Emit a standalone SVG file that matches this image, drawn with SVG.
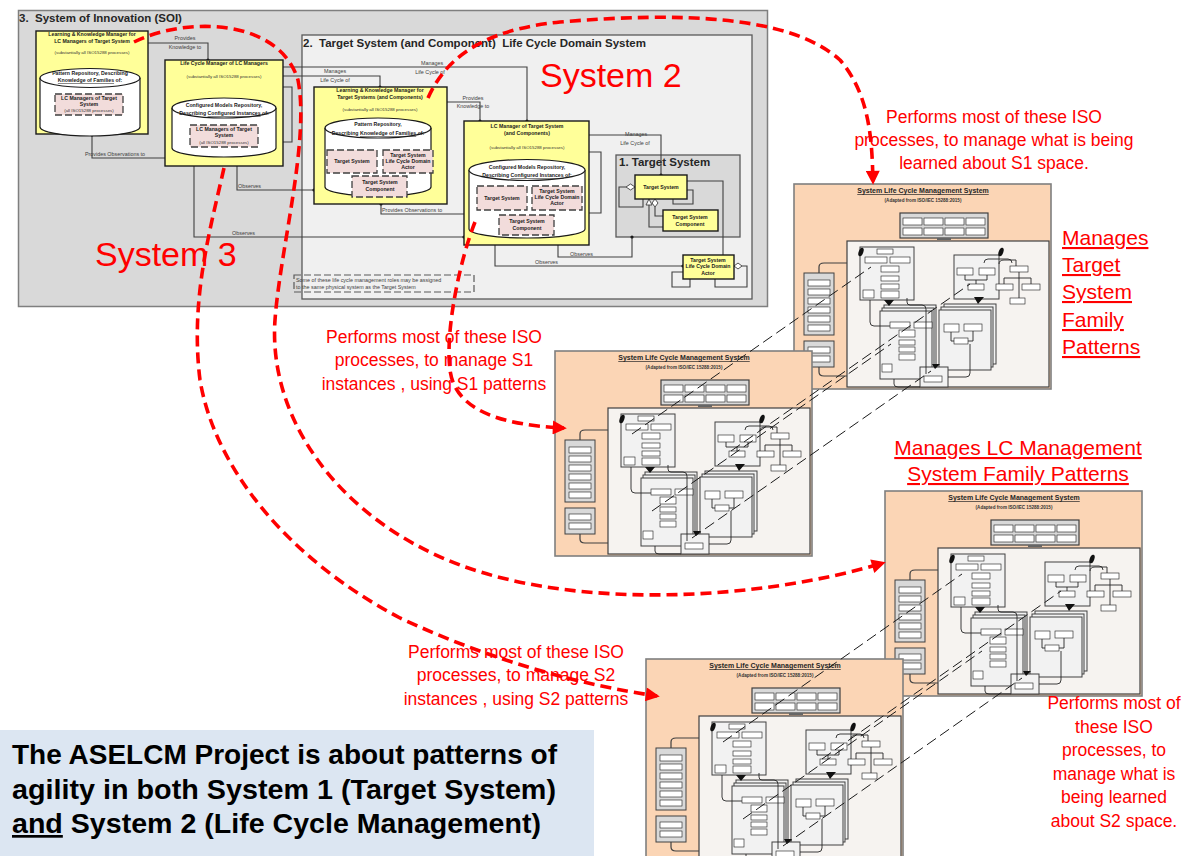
<svg xmlns="http://www.w3.org/2000/svg" xmlns:xlink="http://www.w3.org/1999/xlink" width="1193" height="856" viewBox="0 0 1193 856">
<style>
.f{font-family:"Liberation Sans",Arial,sans-serif}
.tt{font-family:"Liberation Sans",Arial,sans-serif;font-weight:bold;font-size:5.2px;fill:#1a1a1a;text-anchor:middle}
.sm{font-family:"Liberation Sans",Arial,sans-serif;font-size:4.4px;fill:#333;text-anchor:middle}
.lb{font-family:"Liberation Sans",Arial,sans-serif;font-size:5.4px;fill:#404040}
.yl{fill:#ffff99;stroke:#1a1a1a;stroke-width:1.4}
.cyl{fill:#fff;stroke:#1a1a1a;stroke-width:1.2}
.pk{fill:#f2dcdb;stroke:#404040;stroke-width:1.3;stroke-dasharray:7 3}
.cn{fill:none;stroke:#404040;stroke-width:1.1}
.rd{fill:none;stroke:#ff0000;stroke-width:3.6;stroke-dasharray:11 6}
.red{font-family:"Liberation Sans",Arial,sans-serif;fill:#ff0000}
.tb{fill:#fff;stroke:#1a1a1a;stroke-width:0.6}
.tg{fill:#f2f2f2;stroke:#404040;stroke-width:1}
.tl{fill:none;stroke:#262626;stroke-width:0.9}
.bd{fill:none;stroke:#1a1a1a;stroke-width:1;stroke-dasharray:11 5}
</style>
<defs>
<marker id="dot" viewBox="0 0 4 4" refX="2" refY="2" markerWidth="4" markerHeight="4" markerUnits="userSpaceOnUse"><circle cx="2" cy="2" r="1.6" fill="#1a1a1a"/></marker>
<marker id="rarr" viewBox="0 0 10 10" refX="8" refY="5" markerWidth="16" markerHeight="14" markerUnits="userSpaceOnUse" orient="auto"><path d="M0,0 L10,5 L0,10 z" fill="#ff0000"/></marker>
<g id="thumb">
<rect x="0" y="0" width="257" height="205" fill="#fbd5b5" stroke="#7f7f7f" stroke-width="1.6"/>
<text x="129" y="9" class="f" font-size="7" font-weight="bold" fill="#262626" text-anchor="middle" text-decoration="underline">System Life Cycle Management System</text>
<text x="129" y="18" class="f" font-size="4.6" font-weight="bold" fill="#333" text-anchor="middle">(Adapted from ISO/IEC 15288:2015)</text>
<rect x="106" y="29" width="88" height="25" fill="#d9d9d9" stroke="#404040" stroke-width="1.2"/>
<rect x="109" y="34" width="19" height="7" class="tb"/><rect x="130" y="34" width="19" height="7" class="tb"/><rect x="151" y="34" width="19" height="7" class="tb"/><rect x="172" y="34" width="19" height="7" class="tb"/>
<rect x="109" y="44" width="19" height="7" class="tb"/><rect x="130" y="44" width="19" height="7" class="tb"/><rect x="151" y="44" width="19" height="7" class="tb"/><rect x="172" y="44" width="19" height="7" class="tb"/>
<rect x="143" y="54" width="14" height="2" fill="#666"/>
<rect x="53" y="57" width="202" height="146" fill="#f6f3f0" stroke="#404040" stroke-width="1.2"/>
<rect x="10" y="89" width="30" height="62" fill="#d9d9d9" stroke="#404040" stroke-width="1"/>
<rect x="14" y="96" width="22" height="6" class="tb"/><rect x="14" y="105" width="22" height="6" class="tb"/><rect x="14" y="114" width="22" height="6" class="tb"/><rect x="14" y="123" width="22" height="6" class="tb"/><rect x="14" y="132" width="22" height="6" class="tb"/><rect x="14" y="141" width="22" height="6" class="tb"/>
<rect x="10" y="157" width="30" height="26" fill="#d9d9d9" stroke="#404040" stroke-width="1"/>
<rect x="14" y="163" width="22" height="6" class="tb"/><rect x="14" y="172" width="22" height="6" class="tb"/>
<path d="M25,89 V83 Q25,79 30,79 H53 M25,183 V188 Q25,192 30,192 H53" fill="none" stroke="#404040" stroke-width="1.2"/>
<rect x="66" y="63" width="54" height="53" class="tg"/>
<rect x="83" y="65" width="16" height="5" class="tb"/><rect x="71" y="73" width="22" height="6" class="tb"/><rect x="96" y="73" width="20" height="6" class="tb"/><rect x="87" y="82" width="18" height="6" class="tb"/><rect x="87" y="92" width="18" height="5" class="tb"/><rect x="87" y="100" width="18" height="5" class="tb"/><rect x="87" y="107" width="18" height="7" class="tb"/><rect x="69" y="106" width="11" height="8" class="tb"/>
<ellipse cx="67" cy="68" rx="2.3" ry="4.5" fill="#111" transform="rotate(20 67 68)"/>
<rect x="160" y="71" width="45" height="44" class="tg"/>
<rect x="163" y="84" width="16" height="7" class="tb"/><rect x="185" y="84" width="16" height="7" class="tb"/><rect x="174" y="100" width="16" height="6" class="tb"/>
<ellipse cx="207" cy="68" rx="2.3" ry="4.5" fill="#111" transform="rotate(20 207 68)"/>
<path d="M171,91 V96 H182 V100 M193,91 V96 H182" class="tl"/>
<rect x="216" y="82" width="18" height="6" class="tb"/><rect x="202" y="100" width="17" height="6" class="tb"/><rect x="228" y="100" width="18" height="6" class="tb"/><rect x="216" y="114" width="15" height="6" class="tb"/>
<path d="M225,88 V94 H210 V100 M225,94 H237 V100 M225,94 V114 M205,80 Q205,76 210,76 H222 V82" class="tl"/>
<rect x="90" y="121" width="52" height="68" class="tg"/><rect x="88" y="124" width="52" height="68" class="tg"/><rect x="86" y="127" width="52" height="68" class="tg"/>
<rect x="96" y="138" width="20" height="6" class="tb"/><rect x="120" y="138" width="18" height="6" class="tb"/><rect x="105" y="146" width="16" height="7" class="tb"/><rect x="105" y="156" width="16" height="5" class="tb"/><rect x="105" y="163" width="16" height="5" class="tb"/><rect x="105" y="170" width="16" height="6" class="tb"/><rect x="88" y="180" width="10" height="8" class="tb"/>
<rect x="150" y="120" width="52" height="60" class="tg"/><rect x="147" y="123" width="52" height="60" class="tg"/><rect x="145" y="126" width="52" height="60" class="tg"/>
<rect x="150" y="140" width="15" height="8" class="tb"/><rect x="170" y="140" width="18" height="7" class="tb"/><rect x="160" y="154" width="14" height="6" class="tb"/>
<path d="M157,148 V157 H160 M179,147 V157 H174" class="tl"/>
<rect x="126" y="183" width="28" height="20" class="tg"/><rect x="130" y="192" width="18" height="6" class="tb"/>
<path d="M90,116 L100,116 L95,122 z M180,113 L190,113 L184,120 z M138,180 L146,180 L141,185 z" fill="#111"/>
<path d="M76,116 V138 Q76,142 80,142 H96 M113,114 V118 Q113,121 116,121 H128 Q132,121 132,125 V190 M100,195 V200 Q100,203 104,203 H126 M154,193 H172 Q176,193 176,189 V160 M190,79 Q190,75 194,75 H214 Q218,75 218,79" class="tl"/>
</g>
</defs>

<g id="soi">
<rect x="18.5" y="10.5" width="749" height="296" fill="#d9d9d9" stroke="#7f7f7f" stroke-width="1.5"/>
<text x="19" y="22" class="f" font-size="11.5" font-weight="bold" fill="#262626">3.&#160; System of Innovation (SOI)</text>
</g>
<g id="lcdomain">
<rect x="302" y="35" width="450" height="264" fill="#f0f0f0" stroke="#595959" stroke-width="1.3"/>
<text x="303" y="47" class="f" font-size="11.5" font-weight="bold" fill="#262626">2.&#160; Target System (and Component)&#160; Life Cycle Domain System</text>
</g>
<g id="targetsystem-frame">
<rect x="616" y="155" width="124" height="82" fill="#d9d9d9" stroke="#595959" stroke-width="1.3"/>
<text x="619" y="166" class="f" font-size="11.5" font-weight="bold" fill="#262626">1. Target System</text>
</g>

<g id="connectors">
<path d="M148,43 H208 V60" class="cn" marker-end="url(#dot)"/>
<path d="M165,158 H92 V135" class="cn" marker-end="url(#dot)"/>
<path d="M283,76 H380 V87" class="cn" marker-end="url(#dot)"/>
<path d="M283,67 H527 V121" class="cn" marker-end="url(#dot)"/>
<path d="M447,102 H480 V121" class="cn" marker-end="url(#dot)"/>
<path d="M589,135 H661 V175" class="cn" marker-end="url(#dot)"/>
<path d="M237,166 V190 H314" class="cn" marker-end="url(#dot)"/>
<path d="M194,166 V237 H464" class="cn" marker-end="url(#dot)"/>
<path d="M464,214 H381 V204" class="cn" marker-end="url(#dot)"/>
<path d="M558,245 V257 H632 V237" class="cn" marker-end="url(#dot)"/>
<path d="M495,245 V266 H683" class="cn" marker-end="url(#dot)"/>
<path d="M283,87 H292 V142 H283" class="cn"/>
<path d="M589,152 H601 V213 H589" class="cn"/>
<path d="M626,187 H619 V207 H643 V199" class="cn"/>
<path d="M687,190 H693 V204 H673 V199" class="cn"/>
<path d="M649,205 V227 H663 M655,207 V216 H663" class="cn"/>
<path d="M687,181 H723 V255" class="cn"/>
<path d="M742,266 H747 V287 H715 V279" class="cn"/>
<path d="M683,272 H672 V287 H690 V279" class="cn"/>
<path d="M630.5,184 L635,187 L630.5,190 L626,187 z" fill="#fff" stroke="#404040" stroke-width="0.9"/>
<path d="M649,199 L652,205 L646,205 z" fill="#fff" stroke="#404040" stroke-width="0.9"/>
<path d="M655,199 L658,203 L655,207 L652,203 z" fill="#fff" stroke="#404040" stroke-width="0.9"/>
<path d="M738,263 L742,266 L738,269 L734,266 z" fill="#fff" stroke="#404040" stroke-width="0.9"/>
<text x="185" y="40" class="lb" text-anchor="middle">Provides</text>
<text x="185" y="49" class="lb" text-anchor="middle">Knowledge to</text>
<text x="115" y="156" class="lb" text-anchor="middle">Provides Observations to</text>
<text x="335" y="73" class="lb" text-anchor="middle">Manages</text>
<text x="335" y="82" class="lb" text-anchor="middle">Life Cycle of</text>
<text x="432" y="65" class="lb" text-anchor="middle">Manages</text>
<text x="430" y="74" class="lb" text-anchor="middle">Life Cycle of</text>
<text x="473" y="100" class="lb" text-anchor="middle">Provides</text>
<text x="473" y="108" class="lb" text-anchor="middle">Knowledge to</text>
<text x="636" y="136" class="lb" text-anchor="middle">Manages</text>
<text x="635" y="145" class="lb" text-anchor="middle">Life Cycle of</text>
<text x="238" y="188" class="lb">Observes</text>
<text x="232" y="235" class="lb">Observes</text>
<text x="382" y="212" class="lb">Provides Observations to</text>
<text x="570" y="256" class="lb">Observes</text>
<text x="535" y="264" class="lb">Observes</text>
</g>

<g id="lkm-lc">
<rect x="36" y="31" width="112" height="103" class="yl"/>
<text x="92" y="35.5" class="tt">Learning &amp; Knowledge Manager for</text>
<text x="92" y="42.5" class="tt">LC Managers of Target System</text>
<text x="92" y="54" class="sm">(substantially all ISO15288 processes)</text>
<path d="M40,78 V127 A50,9 0 0 0 140,127 V78" class="cyl"/>
<ellipse cx="90" cy="78" rx="50" ry="9.5" class="cyl"/>
<text x="90" y="75" class="tt" font-weight="normal">Pattern Repository, Describing</text>
<text x="90" y="82" class="tt" font-weight="normal"><tspan text-decoration="underline">Knowledge of Families</tspan> of:</text>
<rect x="55" y="94" width="68" height="21" class="pk"/>
<text x="89" y="100" class="tt" font-weight="normal">LC Managers of Target</text>
<text x="89" y="106" class="tt" font-weight="normal">System</text>
<text x="89" y="112" class="sm">(all ISO15288 processes)</text>
</g>

<g id="lcm-lc">
<rect x="165" y="60" width="118" height="106" class="yl"/>
<text x="224" y="65" class="tt">Life Cycle Manager of LC Managers</text>
<text x="224" y="78" class="sm">(substantially all ISO15288 processes)</text>
<path d="M172,108 V148 A52,9 0 0 0 276,148 V108" class="cyl"/>
<ellipse cx="224" cy="108" rx="52" ry="10" class="cyl"/>
<text x="224" y="107" class="tt">Configured Models Repository,</text>
<text x="224" y="115" class="tt">Describing <tspan text-decoration="underline">Configured Instances</tspan> of:</text>
<rect x="190" y="125" width="68" height="22" class="pk"/>
<text x="224" y="131" class="tt">LC Managers of Target</text>
<text x="224" y="137" class="tt">System</text>
<text x="224" y="144" class="sm">(all ISO15288 processes)</text>
</g>

<g id="lkm-ts">
<rect x="314" y="87" width="133" height="117" class="yl"/>
<text x="380" y="92" class="tt">Learning &amp; Knowledge Manager for</text>
<text x="380" y="99" class="tt">Target Systems (and Components)</text>
<text x="380" y="111" class="sm">(substantially all ISO15288 processes)</text>
<path d="M325,128 V187 A53,9 0 0 0 431,187 V128" class="cyl"/>
<ellipse cx="378" cy="128" rx="53" ry="10" class="cyl"/>
<text x="378" y="126" class="tt" font-weight="normal">Pattern Repository,</text>
<text x="378" y="135" class="tt" font-weight="normal">Describing <tspan text-decoration="underline">Knowledge of Families</tspan> of:</text>
<rect x="327" y="150" width="50" height="23" class="pk"/>
<text x="352" y="163" class="tt">Target System</text>
<rect x="383" y="150" width="50" height="23" class="pk"/>
<text x="408" y="157" class="tt">Target System</text>
<text x="408" y="163" class="tt">Life Cycle Domain</text>
<text x="408" y="169" class="tt">Actor</text>
<rect x="352" y="176" width="55" height="21" class="pk"/>
<text x="380" y="184" class="tt">Target System</text>
<text x="380" y="191" class="tt">Component</text>
</g>

<g id="lcm-ts">
<rect x="464" y="121" width="125" height="124" class="yl"/>
<text x="527" y="128" class="tt">LC Manager of Target System</text>
<text x="527" y="135" class="tt">(and Components)</text>
<text x="527" y="149" class="sm">(substantially all ISO15288 processes)</text>
<path d="M469,170 V229 A58,9 0 0 0 585,229 V170" class="cyl"/>
<ellipse cx="527" cy="170" rx="58" ry="10.5" class="cyl"/>
<text x="527" y="169" class="tt">Configured Models Repository,</text>
<text x="527" y="177" class="tt">Describing <tspan text-decoration="underline">Configured Instances</tspan> of:</text>
<rect x="477" y="186" width="50" height="24" class="pk"/>
<text x="502" y="200" class="tt">Target System</text>
<rect x="532" y="186" width="50" height="24" class="pk"/>
<text x="557" y="193" class="tt">Target System</text>
<text x="557" y="199" class="tt">Life Cycle Domain</text>
<text x="557" y="205" class="tt">Actor</text>
<rect x="499" y="215" width="55" height="20" class="pk"/>
<text x="527" y="223" class="tt">Target System</text>
<text x="527" y="230" class="tt">Component</text>
</g>

<g id="ts">
<rect x="635" y="175" width="52" height="24" class="yl" stroke-width="1.2"/>
<text x="661" y="188.5" class="tt">Target System</text>
</g>
<g id="tsc">
<rect x="663" y="210" width="55" height="21" class="yl" stroke-width="1.2"/>
<text x="690" y="219" class="tt">Target System</text>
<text x="690" y="226" class="tt">Component</text>
</g>
<g id="tsa">
<rect x="683" y="255" width="51" height="24" class="yl" stroke-width="1.2"/>
<text x="708" y="262" class="tt">Target System</text>
<text x="708" y="268" class="tt">Life Cycle Domain</text>
<text x="708" y="275" class="tt">Actor</text>
</g>

<g id="note">
<rect x="294" y="275" width="180" height="17" fill="none" stroke="#595959" stroke-width="1.2" stroke-dasharray="7 3"/>
<text x="296" y="282" class="lb" font-size="5">Some of these life cycle management roles may be assigned</text>
<text x="296" y="289" class="lb" font-size="5">to the same physical system as the Target System</text>
</g>

<g id="slcms-1"><use xlink:href="#thumb" href="#thumb" x="794" y="184"/></g>
<g id="slcms-2"><use xlink:href="#thumb" href="#thumb" x="555" y="351"/></g>
<g id="slcms-3"><use xlink:href="#thumb" href="#thumb" x="885" y="491"/></g>
<g id="slcms-4"><use xlink:href="#thumb" href="#thumb" x="646" y="659"/></g>

<g id="thumb-links">
<path d="M632,434 L871,267" class="bd"/>
<path d="M731,451 L970,284" class="bd"/>
<path d="M652,511 L891,344" class="bd"/>
<path d="M692,538 L931,371" class="bd"/>
<path d="M723,742 L962,574" class="bd"/>
<path d="M822,759 L1061,591" class="bd"/>
<path d="M743,819 L982,651" class="bd"/>
<path d="M783,846 L1022,678" class="bd"/>
</g>

<g id="labels">
<text x="540" y="87" class="red" font-size="34">System 2</text>
<text x="95" y="266" class="red" font-size="34">System 3</text>
<text class="red" font-size="17.5" text-anchor="middle"><tspan x="994" y="123">Performs most of these ISO</tspan><tspan x="994" y="146">processes, to manage what is being</tspan><tspan x="994" y="169">learned about S1 space.</tspan></text>
<text class="red" font-size="17.5" text-anchor="middle"><tspan x="434" y="343">Performs most of these ISO</tspan><tspan x="434" y="366">processes, to manage S1</tspan><tspan x="434" y="390">instances , using S1 patterns</tspan></text>
<text class="red" font-size="17.5" text-anchor="middle"><tspan x="516" y="658">Performs most of these ISO</tspan><tspan x="516" y="681">processes, to manage S2</tspan><tspan x="516" y="705">instances , using S2 patterns</tspan></text>
<text class="red" font-size="17.5" text-anchor="middle"><tspan x="1114" y="709">Performs most of</tspan><tspan x="1114" y="733">these ISO</tspan><tspan x="1114" y="756">processes, to</tspan><tspan x="1114" y="780">manage what is</tspan><tspan x="1114" y="803">being learned</tspan><tspan x="1114" y="827">about S2 space.</tspan></text>
<text class="red" font-size="21" text-decoration="underline"><tspan x="1062" y="245">Manages</tspan><tspan x="1062" y="272">Target</tspan><tspan x="1062" y="299">System</tspan><tspan x="1062" y="327">Family</tspan><tspan x="1062" y="354">Patterns</tspan></text>
<text class="red" font-size="21" text-anchor="middle" text-decoration="underline"><tspan x="1018" y="455">Manages LC Management</tspan><tspan x="1018" y="481">System Family Patterns</tspan></text>
</g>

<g id="red-links">
<path d="M134,42 C190,15 280,20 298,80 C310,140 280,250 275,320 C268,420 340,520 460,565 C580,610 760,600 883,563" class="rd" marker-end="url(#rarr)"/>
<path d="M224,168 C210,230 190,300 200,380 C215,470 290,560 400,618 C490,660 580,685 657,696" class="rd" marker-end="url(#rarr)"/>
<path d="M428,98 C445,60 480,30 560,22 C680,12 790,15 840,60 C870,95 872,140 873,182" class="rd" marker-end="url(#rarr)"/>
<path d="M475,222 C460,260 445,330 450,370 C455,410 500,425 564,428" class="rd" marker-end="url(#rarr)"/>
</g>

<g id="summary">
<rect x="0" y="730" width="594" height="126" fill="#dce6f2"/>
<text class="f" font-size="27" font-weight="bold" fill="#000"><tspan x="12" y="764" textLength="545" lengthAdjust="spacingAndGlyphs">The ASELCM Project is about patterns of</tspan><tspan x="12" y="799" textLength="544" lengthAdjust="spacingAndGlyphs">agility in both System 1 (Target System)</tspan><tspan x="12" y="833" textLength="529" lengthAdjust="spacingAndGlyphs"><tspan text-decoration="underline">and</tspan> System 2 (Life Cycle Management)</tspan></text>
</g>
</svg>
